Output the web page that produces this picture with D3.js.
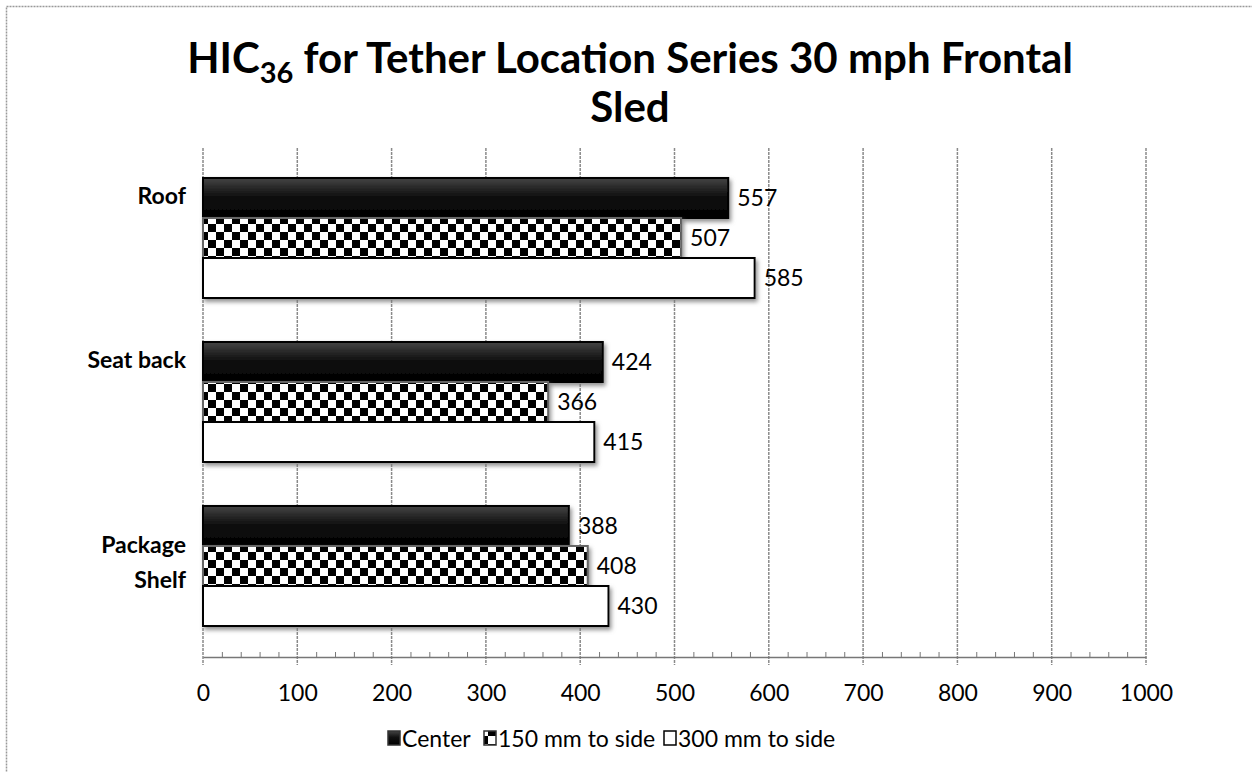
<!DOCTYPE html>
<html><head><meta charset="utf-8">
<script src="https://cdn.jsdelivr.net/npm/d3@7"></script>
<style>body{margin:0;background:#fff;} svg{display:block;font-family:Lato,"Open Sans",sans-serif;}</style>
</head><body><svg id="c" width="1252" height="772"></svg>
<script>
const categories = ["Roof", "Seat back", "Package Shelf"];
const seriesNames = ["Center", "150 mm to side", "300 mm to side"];
const centerValues = [557, 424, 388];
const side150Values = [507, 366, 408];
const side300Values = [585, 415, 430];
const xTicks = [0,100,200,300,400,500,600,700,800,900,1000];

const svg = d3.select("#c");
const defs = svg.append("defs");
const g1 = defs.append("linearGradient").attr("id","gCenter").attr("x1",0).attr("y1",0).attr("x2",0).attr("y2",1);
g1.append("stop").attr("offset","0%").attr("stop-color","#444");
g1.append("stop").attr("offset","45%").attr("stop-color","#111");
g1.append("stop").attr("offset","100%").attr("stop-color","#000");
const pat = defs.append("pattern").attr("id","checker").attr("patternUnits","userSpaceOnUse").attr("width",16).attr("height",16);
pat.append("rect").attr("width",16).attr("height",16).attr("fill","#fff");
pat.append("rect").attr("width",8).attr("height",8).attr("fill","#000");
pat.append("rect").attr("x",8).attr("y",8).attr("width",8).attr("height",8).attr("fill","#000");
const f = defs.append("filter").attr("id","shadow").attr("x","-5%").attr("y","-20%").attr("width","120%").attr("height","160%");
f.append("feDropShadow").attr("dx",2).attr("dy",3).attr("stdDeviation",2).attr("flood-color","#777").attr("flood-opacity",0.8);

// outer border
svg.append("rect").attr("x",6.5).attr("y",6.5).attr("width",1260).attr("height",780)
  .attr("fill","none").attr("stroke","#999").attr("stroke-width",1.5).attr("stroke-dasharray","2,1");

const x = d3.scaleLinear().domain([0,1000]).range([203,1146]);
const y = d3.scaleBand().domain(categories).range([156,648]).paddingInner(0.268).paddingOuter(0.134);
const ys = d3.scaleBand().domain(seriesNames).range([0,y.bandwidth()]);
const axisY = 657;

// gridlines
svg.append("g").selectAll("line").data(xTicks).join("line")
  .attr("x1",d=>x(d)).attr("x2",d=>x(d)).attr("y1",148).attr("y2",665)
  .attr("stroke","#8a8a8a").attr("stroke-width",1.5).attr("stroke-dasharray","3,1");

// bottom axis with minor ticks
const axis = d3.axisBottom(x).tickValues(d3.range(0,1001,20)).tickSize(0).tickFormat("");
const ag = svg.append("g").attr("transform",`translate(0,${axisY})`).call(axis);
ag.select(".domain").attr("stroke","#777").attr("stroke-width",1.5);
ag.selectAll(".tick line").remove();
ag.selectAll(".tick").filter(d=>d%100!==0).append("line").attr("y1",0).attr("y2",-5).attr("stroke","#777");
svg.append("g").attr("transform",`translate(0,${axisY+28})`)
  .call(d3.axisBottom(x).tickValues(xTicks).tickSize(0).tickPadding(0).tickFormat(d3.format("d")))
  .call(g=>g.select(".domain").remove())
  .selectAll("text").attr("font-size",23).attr("fill","#000").attr("font-family","Lato");

// bars
const seriesData = [
  {name:seriesNames[0], values:centerValues, fill:"url(#gCenter)", stroke:"#000"},
  {name:seriesNames[1], values:side150Values, fill:"url(#checker)", stroke:"#666"},
  {name:seriesNames[2], values:side300Values, fill:"#fff", stroke:"#000"}
];
seriesData.forEach(s=>{
  const gs = svg.append("g");
  gs.selectAll("rect").data(categories).join("rect")
    .attr("x",x(0)).attr("y",(c)=>y(c)+ys(s.name))
    .attr("width",(c,i)=>x(s.values[i])-x(0)).attr("height",ys.bandwidth())
    .attr("fill",s.fill).attr("stroke",s.stroke).attr("stroke-width",2)
    .attr("filter","url(#shadow)");
});
seriesData.forEach(s=>{
  svg.append("g").selectAll("text").data(categories).join("text")
    .attr("x",(c,i)=>x(s.values[i])+9)
    .attr("y",(c)=>y(c)+ys(s.name)+ys.bandwidth()/2)
    .attr("dy","0.36em").attr("font-size",23).text((c,i)=>s.values[i]);
});

// category labels
categories.forEach(c=>{
  const words = c === "Package Shelf" ? ["Package","Shelf"] : [c];
  const mid = y(c)+y.bandwidth()/2;
  const t = svg.append("text").attr("text-anchor","end").attr("font-weight","bold").attr("font-size",23);
  if (words.length===1) {
    t.append("tspan").attr("x",186).attr("y", mid-34).text(words[0]);
  } else {
    t.append("tspan").attr("x",186).attr("y", mid-13).text(words[0]);
    t.append("tspan").attr("x",186).attr("y", mid+22).text(words[1]);
  }
});

// title
const t1 = svg.append("text").attr("x",630).attr("y",73).attr("text-anchor","middle").attr("font-weight","bold").attr("font-size",42);
t1.append("tspan").text("HIC");
t1.append("tspan").attr("font-size",29).attr("dy",10).text("36");
t1.append("tspan").attr("dy",-10).text(" for Tether Location Series 30 mph Frontal");
svg.append("text").attr("x",630).attr("y",122).attr("text-anchor","middle").attr("font-weight","bold").attr("font-size",42).text("Sled");

// legend
const legendX = [388, 484, 664];
const lg = svg.append("g");
seriesData.forEach((s,i)=>{
  lg.append("rect").attr("x",legendX[i]).attr("y",731).attr("width",12).attr("height",14)
    .attr("fill", i===1 ? "url(#checker)" : s.fill).attr("stroke",i===2?"#000":"#333").attr("stroke-width",1.5);
  lg.append("text").attr("x",legendX[i]+14).attr("y",747).attr("font-size",23).text(s.name);
});
</script></body></html>
